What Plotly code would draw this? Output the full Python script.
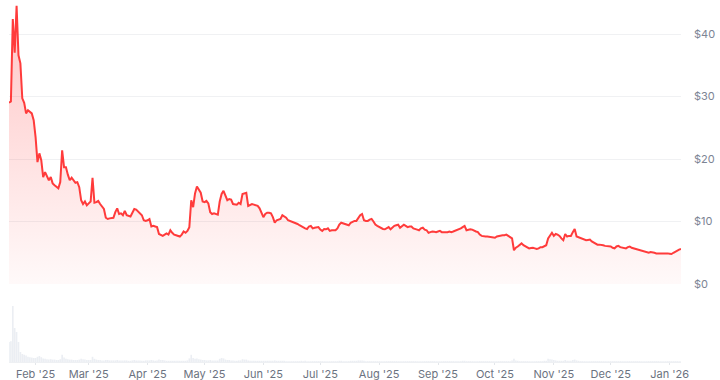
import pandas as pd
import plotly.graph_objects as go

start_date = "2025-01-18"

# Daily close prices (USD), 2025-01-18 .. 2026-01-07
prices = [
    # Jan 18-31
    29.0, 29.2, 42.4, 37.0, 44.5, 36.6, 35.3, 29.7, 29.0, 27.3, 27.8, 27.5, 27.3, 26.2,
    # Feb
    23.5, 19.5, 20.9, 19.8, 17.1, 17.9, 17.2, 16.6, 17.1, 16.1, 15.8, 15.5, 15.3, 16.3,
    21.4, 18.7, 18.7, 17.5, 16.6, 17.0, 16.5, 16.2, 16.3, 15.5, 13.4, 12.8, 13.2, 12.6,
    # Mar
    12.9, 13.2, 17.0, 13.0, 13.1, 13.3, 12.8, 12.3, 12.0, 10.6, 10.4, 10.5, 10.5, 10.6,
    11.5, 12.1, 11.2, 11.3, 11.0, 11.7, 11.0, 10.9, 10.8, 11.4, 12.0, 11.9, 11.6, 11.2,
    11.0, 10.2, 10.1,
    # Apr
    10.2, 10.4, 9.2, 9.3, 9.2, 9.1, 8.0, 7.8, 7.7, 7.9, 8.1, 7.9, 8.6, 8.2, 7.9, 7.8,
    7.7, 7.6, 7.9, 8.4, 8.2, 8.5, 9.1, 13.4, 12.3, 14.5, 15.6, 15.0, 14.6, 13.2,
    # May
    13.1, 13.3, 12.9, 11.5, 11.2, 11.3, 11.2, 11.1, 13.2, 14.4, 14.9, 14.0, 13.4, 13.6,
    13.5, 12.8, 12.8, 12.7, 13.0, 12.8, 14.4, 14.5, 14.6, 12.5, 12.7, 12.8, 12.7, 12.6,
    12.5, 12.1, 11.5,
    # Jun
    10.7, 11.2, 11.4, 11.4, 11.3, 10.7, 9.8, 10.2, 10.3, 10.4, 11.0, 10.8, 10.6, 10.2,
    10.1, 10.0, 9.9, 9.7, 9.6, 9.4, 9.2, 9.0, 8.9, 8.8, 9.2, 9.3, 8.9, 9.0, 9.1, 9.1,
    # Jul
    8.7, 8.5, 8.8, 8.75, 8.9, 8.5, 8.6, 8.6, 8.6, 8.9, 9.5, 9.8, 9.7, 9.6, 9.5, 9.4,
    9.8, 10.0, 10.1, 10.1, 10.6, 11.0, 11.2, 10.2, 10.1, 10.1, 10.3, 10.4, 10.0, 9.5, 9.3,
    # Aug
    9.1, 9.0, 8.8, 8.75, 9.0, 9.1, 8.75, 9.1, 9.3, 9.4, 9.5, 9.0, 9.3, 9.5, 9.3, 9.1,
    9.2, 9.2, 8.9, 8.75, 8.7, 8.6, 8.9, 9.0, 8.7, 8.6, 8.2, 8.3, 8.4, 8.35, 8.3,
    # Sep
    8.4, 8.5, 8.3, 8.3, 8.2, 8.3, 8.4, 8.3, 8.4, 8.5, 8.6, 8.8, 8.9, 9.1, 9.3, 8.6,
    8.7, 8.75, 8.7, 8.5, 8.4, 8.3, 7.9, 7.7, 7.6, 7.6, 7.6, 7.55, 7.5, 7.4,
    # Oct
    7.4, 7.6, 7.7, 7.8, 7.8, 7.8, 7.9, 7.7, 7.5, 7.3, 5.4, 5.8, 6.0, 6.3, 6.5, 6.2,
    6.0, 5.8, 5.7, 5.75, 5.8, 5.7, 5.6, 5.7, 5.9, 5.9, 6.0, 6.2, 7.3, 7.8, 8.2,
    # Nov
    7.7, 8.0, 7.9, 7.7, 7.3, 7.0, 8.0, 7.6, 7.7, 7.7, 8.3, 8.8, 7.6, 7.5, 7.3, 7.2,
    7.1, 7.0, 7.05, 7.1, 6.8, 6.6, 6.4, 6.3, 6.3, 6.3, 6.2, 6.1, 6.1, 6.05,
    # Dec
    6.0, 5.8, 5.7, 6.0, 6.1, 5.9, 5.8, 5.75, 5.7, 5.9, 6.0, 5.8, 5.7, 5.6, 5.5, 5.4,
    5.3, 5.2, 5.1, 5.0, 5.0, 5.1, 5.1, 5.0, 4.9, 4.9, 4.9, 4.9, 4.95, 5.0, 4.9,
    # Jan 2026
    4.85, 4.8, 5.0, 5.2, 5.4, 5.5, 5.6,
]

# Daily trading volume (USD billions), same dates
volumes = [
    # Jan 18-31
    5.0, 5.2, 14.0, 8.5, 7.5, 5.0, 2.5, 2.0, 1.8, 1.6, 1.3, 1.2, 1.1, 1.0,
    # Feb
    1.0, 1.3, 1.5, 1.2, 0.9, 0.8, 0.7, 0.6, 0.7, 0.6, 0.6, 0.5, 0.5, 0.7,
    1.8, 1.1, 0.8, 0.7, 0.6, 0.6, 0.5, 0.5, 0.5, 0.6, 0.8, 0.7, 0.6, 0.5,
    # Mar
    0.5, 0.5, 1.3, 0.8, 0.6, 0.5, 0.5, 0.4, 0.4, 0.5, 0.5, 0.4, 0.4, 0.4, 0.4, 0.5,
    0.4, 0.4, 0.4, 0.4, 0.4, 0.3, 0.3, 0.4, 0.5, 0.4, 0.4, 0.4, 0.3, 0.3, 0.4,
    # Apr
    0.4, 0.4, 0.5, 0.4, 0.3, 0.4, 0.6, 0.5, 0.5, 0.4, 0.3, 0.3, 0.3, 0.3, 0.3,
    0.3, 0.3, 0.3, 0.3, 0.3, 0.3, 0.4, 0.9, 1.8, 1.0, 0.8, 0.9, 0.7, 0.6, 0.5,
    # May
    0.5, 0.4, 0.4, 0.5, 0.4, 0.4, 0.4, 0.4, 0.8, 1.0, 0.9, 0.6, 0.5, 0.5, 0.4, 0.4,
    0.3, 0.3, 0.4, 0.4, 0.7, 0.6, 0.6, 0.4, 0.3, 0.3, 0.3, 0.3, 0.3, 0.3, 0.3,
    # Jun
    0.3, 0.3, 0.3, 0.3, 0.3, 0.3, 0.4, 0.3, 0.3, 0.3, 0.3, 0.3, 0.2, 0.2, 0.2,
    0.2, 0.2, 0.2, 0.2, 0.2, 0.3, 0.2, 0.3, 0.2, 0.2, 0.2, 0.2, 0.2, 0.2, 0.2,
    # Jul
    0.2, 0.2, 0.2, 0.2, 0.2, 0.2, 0.2, 0.2, 0.2, 0.2, 0.3, 0.3, 0.2, 0.2, 0.2, 0.2,
    0.3, 0.3, 0.3, 0.3, 0.4, 0.4, 0.4, 0.3, 0.2, 0.2, 0.2, 0.2, 0.2, 0.2, 0.2,
    # Aug
    0.2, 0.2, 0.2, 0.2, 0.2, 0.2, 0.2, 0.2, 0.2, 0.2, 0.2, 0.2, 0.2, 0.2, 0.2, 0.2,
    0.2, 0.2, 0.2, 0.2, 0.2, 0.2, 0.2, 0.2, 0.2, 0.2, 0.2, 0.2, 0.2, 0.2, 0.2,
    # Sep
    0.2, 0.2, 0.2, 0.2, 0.2, 0.2, 0.2, 0.2, 0.2, 0.2, 0.2, 0.2, 0.2, 0.3, 0.3,
    0.2, 0.2, 0.2, 0.2, 0.2, 0.2, 0.2, 0.2, 0.2, 0.2, 0.2, 0.2, 0.2, 0.2, 0.2,
    # Oct
    0.2, 0.2, 0.2, 0.2, 0.2, 0.2, 0.2, 0.2, 0.2, 0.4, 0.8, 0.4, 0.3, 0.2, 0.2, 0.2,
    0.2, 0.2, 0.2, 0.2, 0.2, 0.2, 0.2, 0.2, 0.2, 0.2, 0.3, 0.3, 0.8, 0.7, 0.6,
    # Nov
    0.5, 0.4, 0.3, 0.3, 0.3, 0.3, 0.5, 0.3, 0.3, 0.3, 0.5, 0.6, 0.4, 0.3, 0.2,
    0.2, 0.2, 0.2, 0.2, 0.2, 0.2, 0.2, 0.2, 0.2, 0.2, 0.2, 0.2, 0.2, 0.2, 0.2,
    # Dec
    0.2, 0.2, 0.2, 0.2, 0.2, 0.2, 0.2, 0.2, 0.2, 0.2, 0.2, 0.2, 0.2, 0.2, 0.2, 0.2,
    0.2, 0.2, 0.2, 0.2, 0.2, 0.2, 0.2, 0.2, 0.2, 0.2, 0.2, 0.2, 0.2, 0.2, 0.2,
    # Jan 2026
    0.2, 0.2, 0.2, 0.2, 0.2, 0.2, 0.2,
]

month_ticks = ["2025-02-01", "2025-03-01", "2025-04-01", "2025-05-01", "2025-06-01",
               "2025-07-01", "2025-08-01", "2025-09-01", "2025-10-01", "2025-11-01",
               "2025-12-01", "2026-01-01"]
month_labels = ["Feb '25", "Mar '25", "Apr '25", "May '25", "Jun '25", "Jul '25",
                "Aug '25", "Sep '25", "Oct '25", "Nov '25", "Dec '25", "Jan '26"]
price_ticks = [0, 10, 20, 30, 40]
price_labels = ["$0", "$10", "$20", "$30", "$40"]

dates = pd.date_range(start_date, periods=len(prices), freq="D")
vol_dates = pd.date_range(start_date, periods=len(volumes), freq="D")

LINE = "#ff3b3b"
LABEL = "#7c8494"

fig = go.Figure()
fig.add_trace(go.Bar(
    x=vol_dates, y=volumes, yaxis="y2",
    marker=dict(color="rgba(210,218,228,0.45)", line=dict(width=0)),
    hoverinfo="skip",
))
fig.add_trace(go.Scatter(
    x=dates, y=prices, mode="lines",
    line=dict(color=LINE, width=2),
    fill="tozeroy",
    fillgradient=dict(type="vertical", start=0, stop=45,
                      colorscale=[[0, "rgba(255,59,59,0.03)"], [1, "rgba(255,59,59,0.30)"]]),
    hoverinfo="skip",
))

H = 380
plot_bottom = 362
price_zero_px = 284
vol_top_px = 300
plot_h = plot_bottom  # top margin 0

fig.update_layout(
    width=720, height=380,
    margin=dict(l=9, r=39, t=0, b=H - plot_bottom, autoexpand=False),
    paper_bgcolor="white", plot_bgcolor="white",
    showlegend=False,
    bargap=0.15,
    font=dict(family="Inter, 'Noto Sans', sans-serif", size=11, color=LABEL),
    xaxis=dict(
        type="date",
        range=[dates[0], dates[-1]],
        anchor="y2",
        automargin=False,
        tickvals=month_ticks, ticktext=month_labels,
        showgrid=False, zeroline=False,
        showline=True, linecolor="#eef0f3", linewidth=1,
        ticks="outside", ticklen=2, tickcolor="#e3e6ea", tickwidth=1,
        tickfont=dict(size=11, color="#6b7280"),
    ),
    yaxis=dict(
        domain=[(plot_h - price_zero_px) / plot_h, 1],
        range=[0, price_zero_px / 6.25],
        side="right",
        automargin=False,
        tickvals=price_ticks, ticktext=price_labels,
        showgrid=True, gridcolor="#f0f1f3", gridwidth=1,
        zeroline=False, showline=False, ticks="",
        ticklabelstandoff=12,
        tickfont=dict(size=11, color=LABEL),
    ),
    yaxis2=dict(
        domain=[0, (plot_h - vol_top_px) / plot_h],
        range=[0, max(volumes) * 62 / 56],
        automargin=False,
        showgrid=False, zeroline=False, showticklabels=False, ticks="",
    ),
)

fig.write_html("out.html")
